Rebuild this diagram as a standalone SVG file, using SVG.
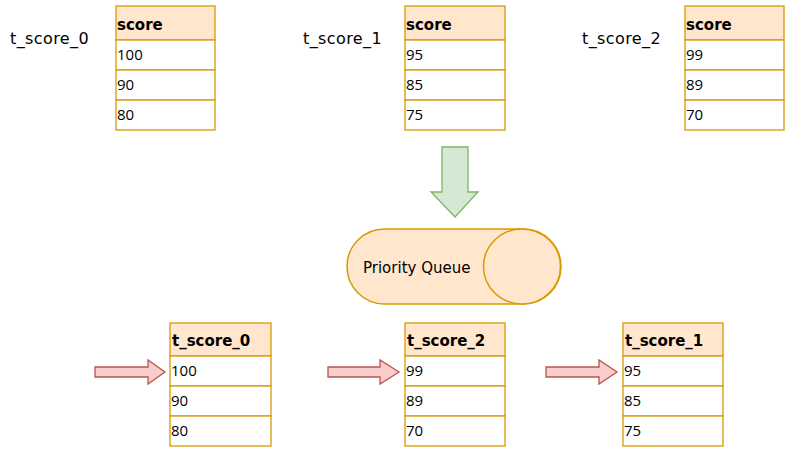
<svg xmlns="http://www.w3.org/2000/svg" width="786" height="452" viewBox="0 0 786 452">
<defs>
<style>
.hd{fill:#ffe6cc;stroke:#d79b00;stroke-width:1.3}
.rw{fill:#ffffff;stroke:#d79b00;stroke-width:1.3}
.hf{font-family:"DejaVu Sans",sans-serif;font-weight:bold;font-size:15px;fill:#000}
.lb{font-family:"DejaVu Sans",sans-serif;font-size:16px;letter-spacing:0.4px;fill:#000}
.pq{font-family:"DejaVu Sans",sans-serif;font-size:15px;fill:#000}
.nf{font-family:"Open Sans","Noto Sans",sans-serif;font-size:15px;fill:#000}
.ra{fill:#f8cecc;stroke:#b85450;stroke-width:1.3}
</style>
</defs>
<rect width="786" height="452" fill="#ffffff"/>

<g id="label-t0"><text class="lb" x="10" y="44">t_score_0</text></g>
<g id="label-t1"><text class="lb" x="303" y="44">t_score_1</text></g>
<g id="label-t2"><text class="lb" x="582" y="44">t_score_2</text></g>

<g id="table-top-0">
<rect class="hd" x="116" y="6" width="99" height="34"/>
<text class="hf" x="117" y="30">score</text>
<rect class="rw" x="116" y="40" width="99" height="30"/>
<text class="nf" x="117" y="60">100</text>
<rect class="rw" x="116" y="70" width="99" height="30"/>
<text class="nf" x="117" y="90">90</text>
<rect class="rw" x="116" y="100" width="99" height="30"/>
<text class="nf" x="117" y="120">80</text>
</g>

<g id="table-top-1">
<rect class="hd" x="405" y="6" width="100" height="34"/>
<text class="hf" x="406" y="30">score</text>
<rect class="rw" x="405" y="40" width="100" height="30"/>
<text class="nf" x="406" y="60">95</text>
<rect class="rw" x="405" y="70" width="100" height="30"/>
<text class="nf" x="406" y="90">85</text>
<rect class="rw" x="405" y="100" width="100" height="30"/>
<text class="nf" x="406" y="120">75</text>
</g>

<g id="table-top-2">
<rect class="hd" x="685" y="6" width="99" height="34"/>
<text class="hf" x="686" y="30">score</text>
<rect class="rw" x="685" y="40" width="99" height="30"/>
<text class="nf" x="686" y="60">99</text>
<rect class="rw" x="685" y="70" width="99" height="30"/>
<text class="nf" x="686" y="90">89</text>
<rect class="rw" x="685" y="100" width="99" height="30"/>
<text class="nf" x="686" y="120">70</text>
</g>

<g id="down-arrow">
<polygon points="442,147 468,147 468,192 478,192 455,217 431,192 442,192" fill="#d5e8d4" stroke="#82b366" stroke-width="1.3"/>
</g>

<g id="priority-queue">
<rect x="347" y="229" width="214" height="75" rx="37.5" ry="37.5" fill="#ffe6cc" stroke="#d79b00" stroke-width="1.5"/>
<ellipse cx="522" cy="266.5" rx="38.5" ry="37.5" fill="#ffe6cc" stroke="#d79b00" stroke-width="1.5"/>
<text class="pq" x="363" y="273">Priority Queue</text>
</g>

<g id="table-bot-0">
<rect class="hd" x="170" y="323" width="101" height="33"/>
<text class="hf" x="172" y="346">t_score_0</text>
<rect class="rw" x="170" y="356" width="101" height="30"/>
<text class="nf" x="171" y="376">100</text>
<rect class="rw" x="170" y="386" width="101" height="30"/>
<text class="nf" x="171" y="406">90</text>
<rect class="rw" x="170" y="416" width="101" height="30"/>
<text class="nf" x="171" y="436">80</text>
</g>

<g id="table-bot-1">
<rect class="hd" x="405" y="323" width="100" height="33"/>
<text class="hf" x="407" y="346">t_score_2</text>
<rect class="rw" x="405" y="356" width="100" height="30"/>
<text class="nf" x="406" y="376">99</text>
<rect class="rw" x="405" y="386" width="100" height="30"/>
<text class="nf" x="406" y="406">89</text>
<rect class="rw" x="405" y="416" width="100" height="30"/>
<text class="nf" x="406" y="436">70</text>
</g>

<g id="table-bot-2">
<rect class="hd" x="623" y="323" width="100" height="33"/>
<text class="hf" x="625" y="346">t_score_1</text>
<rect class="rw" x="623" y="356" width="100" height="30"/>
<text class="nf" x="624" y="376">95</text>
<rect class="rw" x="623" y="386" width="100" height="30"/>
<text class="nf" x="624" y="406">85</text>
<rect class="rw" x="623" y="416" width="100" height="30"/>
<text class="nf" x="624" y="436">75</text>
</g>

<g id="connectors">
<polygon class="ra" points="95,367 148,367 148,360 165,372 148,384 148,377 95,377"/>
<polygon class="ra" points="328,367 380,367 380,360 399,372 380,384 380,377 328,377"/>
<polygon class="ra" points="546,367 599,367 599,360 617,372 599,384 599,377 546,377"/>
</g>
</svg>
